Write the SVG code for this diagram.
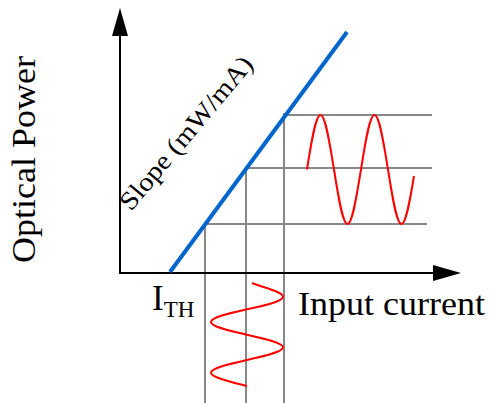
<svg xmlns="http://www.w3.org/2000/svg" width="490" height="403" viewBox="0 0 490 403">
<defs>
<style>
.ax{stroke:#000;stroke-width:2;fill:none}
.g{stroke:#888;stroke-width:2;fill:none}
.r{stroke:#f00;stroke-width:2;fill:none;stroke-linejoin:round}
.t{font-family:"Liberation Serif","Times New Roman",serif;fill:#000}
</style>
</defs>
<rect width="490" height="403" fill="#fff"/>
<g id="connectors">
<line class="g" x1="205" y1="224" x2="205" y2="403"/>
<line class="g" x1="246" y1="168" x2="246" y2="403"/>
<line class="g" x1="284" y1="113" x2="284" y2="403"/>
<line class="g" x1="205" y1="224" x2="427" y2="224"/>
<line class="g" x1="245" y1="168" x2="432" y2="168"/>
<line class="g" x1="283" y1="115" x2="432" y2="115"/>
</g>
<g id="axes">
<line class="ax" x1="120" y1="273" x2="120" y2="34"/>
<polygon points="120,8 128,36 112,36" fill="#000"/>
<line class="ax" x1="119" y1="273" x2="435" y2="273"/>
<polygon points="461,273 433,265 433,281" fill="#000"/>
</g>
<g id="slope-line">
<line x1="170" y1="272" x2="347" y2="32" stroke="#0066cc" stroke-width="4"/>
</g>
<g id="output-wave">
<path class="r" d="M307,169.5 C311.4,141.6 315.6,115 320.5,115 C325.4,115 329.4,141.6 334,169.5 C338.4,197.4 342.6,224 347.5,224 C352.4,224 356.4,197.4 361,169.5 C365.4,141.6 369.6,115 374.5,115 C379.4,115 383.4,141.6 388,169.5 C392.4,197.4 396.6,224 401.5,224 C406.1,224 410,200 414,176"/>
</g>
<g id="input-wave">
<path class="r" d="M252,283 C268,289 283,292.1 283,296.7 C283,301.3 265.4,305.3 247,309.3 C228.6,313.4 211,317.4 211,322 C211,326.6 228.6,330.6 247,334.7 C265.4,338.8 283,342.8 283,347.3 C283,351.9 265.4,355.9 247,360 C228.6,364.1 211,368.1 211,372.7 C211,377.3 228.6,381.3 247,386"/>
</g>
<g id="labels">
<text class="t" font-size="34" transform="translate(35,263) rotate(-90)" textLength="207" lengthAdjust="spacingAndGlyphs">Optical Power</text>
<text class="t" font-size="34" x="298" y="315" textLength="187" lengthAdjust="spacingAndGlyphs">Input current</text>
<text class="t" font-size="35" x="152" y="310">I<tspan font-size="23" y="317">TH</tspan></text>
<text class="t" font-size="26" transform="translate(131,212) rotate(-50)" textLength="192" lengthAdjust="spacingAndGlyphs">Slope (mW/mA)</text>
</g>
</svg>
